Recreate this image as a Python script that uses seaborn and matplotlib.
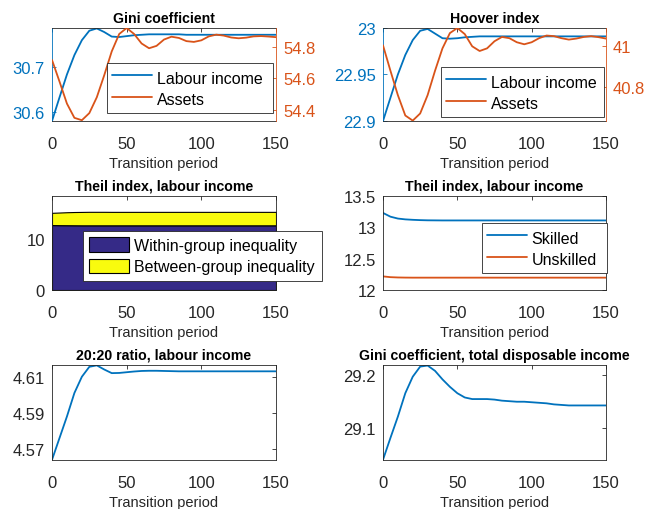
import matplotlib
matplotlib.use("Agg")
import matplotlib.pyplot as plt
import seaborn as sns
from matplotlib.patches import Patch
from matplotlib.lines import Line2D
from matplotlib.ticker import FormatStrFormatter

# ---------------- data ----------------
periods = list(range(0, 151, 5))

gini_labour = [30.581, 30.633, 30.684, 30.727, 30.760, 30.781, 30.786, 30.778,
               30.768, 30.767, 30.769, 30.771, 30.772, 30.773, 30.773, 30.773,
               30.773, 30.773, 30.772, 30.772, 30.772, 30.772, 30.772, 30.772,
               30.772, 30.772, 30.772, 30.772, 30.772, 30.772, 30.772]
gini_assets = [54.716, 54.58, 54.44, 54.35, 54.335, 54.38, 54.48, 54.62,
               54.77, 54.88, 54.918, 54.88, 54.82, 54.79, 54.805, 54.845,
               54.863, 54.855, 54.835, 54.83, 54.84, 54.865, 54.876, 54.87,
               54.858, 54.853, 54.857, 54.865, 54.867, 54.864, 54.86]

hoover_labour = [22.900, 22.925, 22.950, 22.971, 22.987, 22.997, 22.999, 22.994,
                 22.989, 22.9885, 22.989, 22.990, 22.9905, 22.991, 22.991, 22.991,
                 22.991, 22.991, 22.991, 22.991, 22.991, 22.991, 22.991, 22.991,
                 22.991, 22.991, 22.991, 22.991, 22.991, 22.991, 22.991]
hoover_assets = [41.005, 40.88, 40.76, 40.66, 40.635, 40.67, 40.76, 40.88,
                 40.99, 41.065, 41.09, 41.06, 41.00, 40.977, 40.99, 41.025,
                 41.046, 41.04, 41.02, 41.01, 41.02, 41.04, 41.053, 41.05,
                 41.04, 41.033, 41.038, 41.046, 41.05, 41.045, 41.038]

theil_within = [12.85, 12.83, 12.82, 12.81, 12.80, 12.80, 12.80, 12.80,
                12.80, 12.80, 12.80, 12.80, 12.80, 12.80, 12.80, 12.80,
                12.80, 12.80, 12.80, 12.80, 12.80, 12.80, 12.80, 12.80,
                12.80, 12.80, 12.80, 12.80, 12.80, 12.80, 12.80]
theil_between = [2.42, 2.50, 2.57, 2.62, 2.65, 2.67, 2.67, 2.67,
                 2.66, 2.66, 2.66, 2.66, 2.66, 2.66, 2.66, 2.66,
                 2.66, 2.66, 2.66, 2.66, 2.66, 2.66, 2.66, 2.66,
                 2.66, 2.66, 2.66, 2.66, 2.66, 2.66, 2.66]

theil_skilled = [13.23, 13.17, 13.14, 13.127, 13.12, 13.115, 13.112, 13.111,
                 13.11, 13.11, 13.11, 13.11, 13.11, 13.11, 13.11, 13.11,
                 13.11, 13.11, 13.11, 13.11, 13.11, 13.11, 13.11, 13.11,
                 13.11, 13.11, 13.11, 13.11, 13.11, 13.11, 13.11]
theil_unskilled = [12.217, 12.205, 12.200, 12.198, 12.197, 12.197, 12.197, 12.197,
                   12.197, 12.197, 12.197, 12.197, 12.197, 12.197, 12.197, 12.197,
                   12.197, 12.197, 12.197, 12.197, 12.197, 12.197, 12.197, 12.197,
                   12.197, 12.197, 12.197, 12.197, 12.197, 12.197, 12.197]

ratio_2020 = [4.5640, 4.5760, 4.5880, 4.6010, 4.6100, 4.6155, 4.6163, 4.6140,
              4.6120, 4.6121, 4.6125, 4.6129, 4.6132, 4.6133, 4.6133, 4.6132,
              4.6131, 4.6130, 4.6130, 4.6130, 4.6130, 4.6130, 4.6130, 4.6130,
              4.6130, 4.6130, 4.6130, 4.6130, 4.6130, 4.6130, 4.6130]

gini_disp = [29.041, 29.082, 29.122, 29.166, 29.197, 29.216, 29.218, 29.208,
             29.192, 29.178, 29.166, 29.158, 29.155, 29.155, 29.155, 29.154,
             29.152, 29.151, 29.150, 29.150, 29.149, 29.148, 29.147, 29.145,
             29.144, 29.143, 29.143, 29.143, 29.143, 29.143, 29.143]

# ---------------- style ----------------
sns.set_style("white")
plt.rcParams['font.family'] = ['Liberation Sans', 'DejaVu Sans']

BLUE = '#0072BD'
ORANGE = '#D95319'
DARK = '#262626'
NAVY = '#352A87'
YELLOW = '#F9FB0E'
LW = 1.3
TICK_FS = 12
LEG_FS = 11.5
LAB_FS = 10.5
TITLE_FS = 10.2

fig = plt.figure(figsize=(6.48, 5.10), dpi=100)
W, H = 648.0, 510.0


def px_axes(l, t, r, b):
    return fig.add_axes([l / W, 1 - b / H, (r - l) / W, (b - t) / H])


def base_style(ax, title, single=True):
    ax.set_xlim(0, 150)
    ax.set_xticks([0, 50, 100, 150])
    for s in ax.spines.values():
        s.set_visible(True)
        s.set_linewidth(0.6)
        s.set_color(DARK)
    ax.tick_params(axis='both', direction='in', length=3, width=0.6,
                   colors=DARK, labelsize=TICK_FS, pad=5)
    ax.tick_params(axis='x', top=True, pad=10.5)
    if single:
        ax.tick_params(axis='y', right=True, labelright=False)
    ax.set_title(title, fontsize=TITLE_FS, fontweight='bold', color='black', pad=4.5)
    ax.grid(False)
    ax.yaxis.set_major_formatter(FormatStrFormatter('%g'))


def legend_at(ax, handles, labels, x0, y0, x1, handleheight=1.45, labelspacing=0.15,
              borderpad=0.3):
    # legend box placed by its top-left corner and right edge (pixels)
    bbox = (x0 / W, 1 - y0 / H, (x1 - x0) / W, 0)
    leg = ax.legend(handles, labels, loc='upper left', mode='expand',
                    bbox_to_anchor=bbox, bbox_transform=fig.transFigure,
                    borderaxespad=0, frameon=True, fancybox=False,
                    edgecolor=DARK, framealpha=1, fontsize=LEG_FS,
                    handlelength=2.5, handletextpad=0.31, borderpad=borderpad,
                    labelspacing=labelspacing, handleheight=handleheight)
    leg.get_frame().set_linewidth(0.6)
    for t in leg.get_texts():
        t.set_color('black')
    return leg


def twin_panel(ax, left_y, right_y, title, lylim, lyt, rylim, ryt, legbox):
    base_style(ax, title, single=False)
    sns.lineplot(x=periods, y=left_y, ax=ax, color=BLUE, linewidth=LW, legend=False)
    ax2 = ax.twinx()
    sns.lineplot(x=periods, y=right_y, ax=ax2, color=ORANGE, linewidth=LW, legend=False)
    ax.set_ylim(*lylim)
    ax.set_yticks(lyt)
    ax2.set_ylim(*rylim)
    ax2.set_yticks(ryt)
    ax2.set_xlim(0, 150)
    ax2.set_ylabel('')
    ax.spines['left'].set_color(BLUE)
    ax.spines['right'].set_visible(False)
    for s in ax2.spines.values():
        s.set_visible(False)
    ax2.spines['right'].set_visible(True)
    ax2.spines['right'].set_color(ORANGE)
    ax2.spines['right'].set_linewidth(0.6)
    ax.tick_params(axis='y', colors=BLUE, right=False)
    ax2.tick_params(axis='y', direction='in', length=3, width=0.6, colors=ORANGE,
                    labelsize=TICK_FS, pad=5)
    ax2.yaxis.set_major_formatter(FormatStrFormatter('%g'))
    ax2.grid(False)
    handles = [Line2D([], [], color=BLUE, linewidth=LW),
               Line2D([], [], color=ORANGE, linewidth=LW)]
    legend_at(ax2, handles, ['Labour income', 'Assets'], *legbox)
    return ax2


# Row 1
ax1 = px_axes(52, 29, 276, 122)
twin_panel(ax1, gini_labour, gini_assets, 'Gini coefficient',
           (30.581, 30.787), [30.6, 30.7], (54.33, 54.918), [54.4, 54.6, 54.8],
           (107, 64, 273))

ax2 = px_axes(383, 29, 606, 122)
twin_panel(ax2, hoover_labour, hoover_assets, 'Hoover index',
           (22.9, 23.0), [22.9, 22.95, 23.0], (40.633, 41.09), [40.8, 41.0],
           (441, 68, 604))

# Row 2 left: stacked area
ax3 = px_axes(52, 197, 276, 291)
base_style(ax3, 'Theil index, labour income')
total = [w + b for w, b in zip(theil_within, theil_between)]
ax3.fill_between(periods, 0, theil_within, facecolor=NAVY, edgecolor='black', linewidth=0.8)
ax3.fill_between(periods, theil_within, total, facecolor=YELLOW, edgecolor='black', linewidth=0.8)
ax3.set_ylim(0, 18.6)
ax3.set_yticks([0, 10])
legend_at(ax3, [Patch(facecolor=NAVY, edgecolor='black', linewidth=0.8),
                Patch(facecolor=YELLOW, edgecolor='black', linewidth=0.8)],
          ['Within-group inequality', 'Between-group inequality'], 83, 232, 322,
          handleheight=1.0, labelspacing=0.36, borderpad=0.4)

# Row 2 right
ax4 = px_axes(383, 197, 606, 291)
base_style(ax4, 'Theil index, labour income')
sns.lineplot(x=periods, y=theil_skilled, ax=ax4, color=BLUE, linewidth=LW, legend=False)
sns.lineplot(x=periods, y=theil_unskilled, ax=ax4, color=ORANGE, linewidth=LW, legend=False)
ax4.set_ylim(12, 13.5)
ax4.set_yticks([12, 12.5, 13, 13.5])
legend_at(ax4, [Line2D([], [], color=BLUE, linewidth=LW),
                Line2D([], [], color=ORANGE, linewidth=LW)],
          ['Skilled', 'Unskilled'], 482, 224, 607)

# Row 3
ax5 = px_axes(52, 366, 276, 461)
base_style(ax5, '20:20 ratio, labour income')
sns.lineplot(x=periods, y=ratio_2020, ax=ax5, color=BLUE, linewidth=LW, legend=False)
ax5.set_ylim(4.5639, 4.6165)
ax5.set_yticks([4.57, 4.59, 4.61])

ax6 = px_axes(383, 366, 606, 461)
base_style(ax6, 'Gini coefficient, total disposable income')
sns.lineplot(x=periods, y=gini_disp, ax=ax6, color=BLUE, linewidth=LW, legend=False)
ax6.set_ylim(29.0405, 29.219)
ax6.set_yticks([29.1, 29.2])

for a in [ax1, ax2, ax3, ax4, ax5, ax6]:
    a.set_xlabel('Transition period', fontsize=LAB_FS, color=DARK, labelpad=4)
    a.set_ylabel('')

fig.savefig('out.png', dpi=100, facecolor='white')
